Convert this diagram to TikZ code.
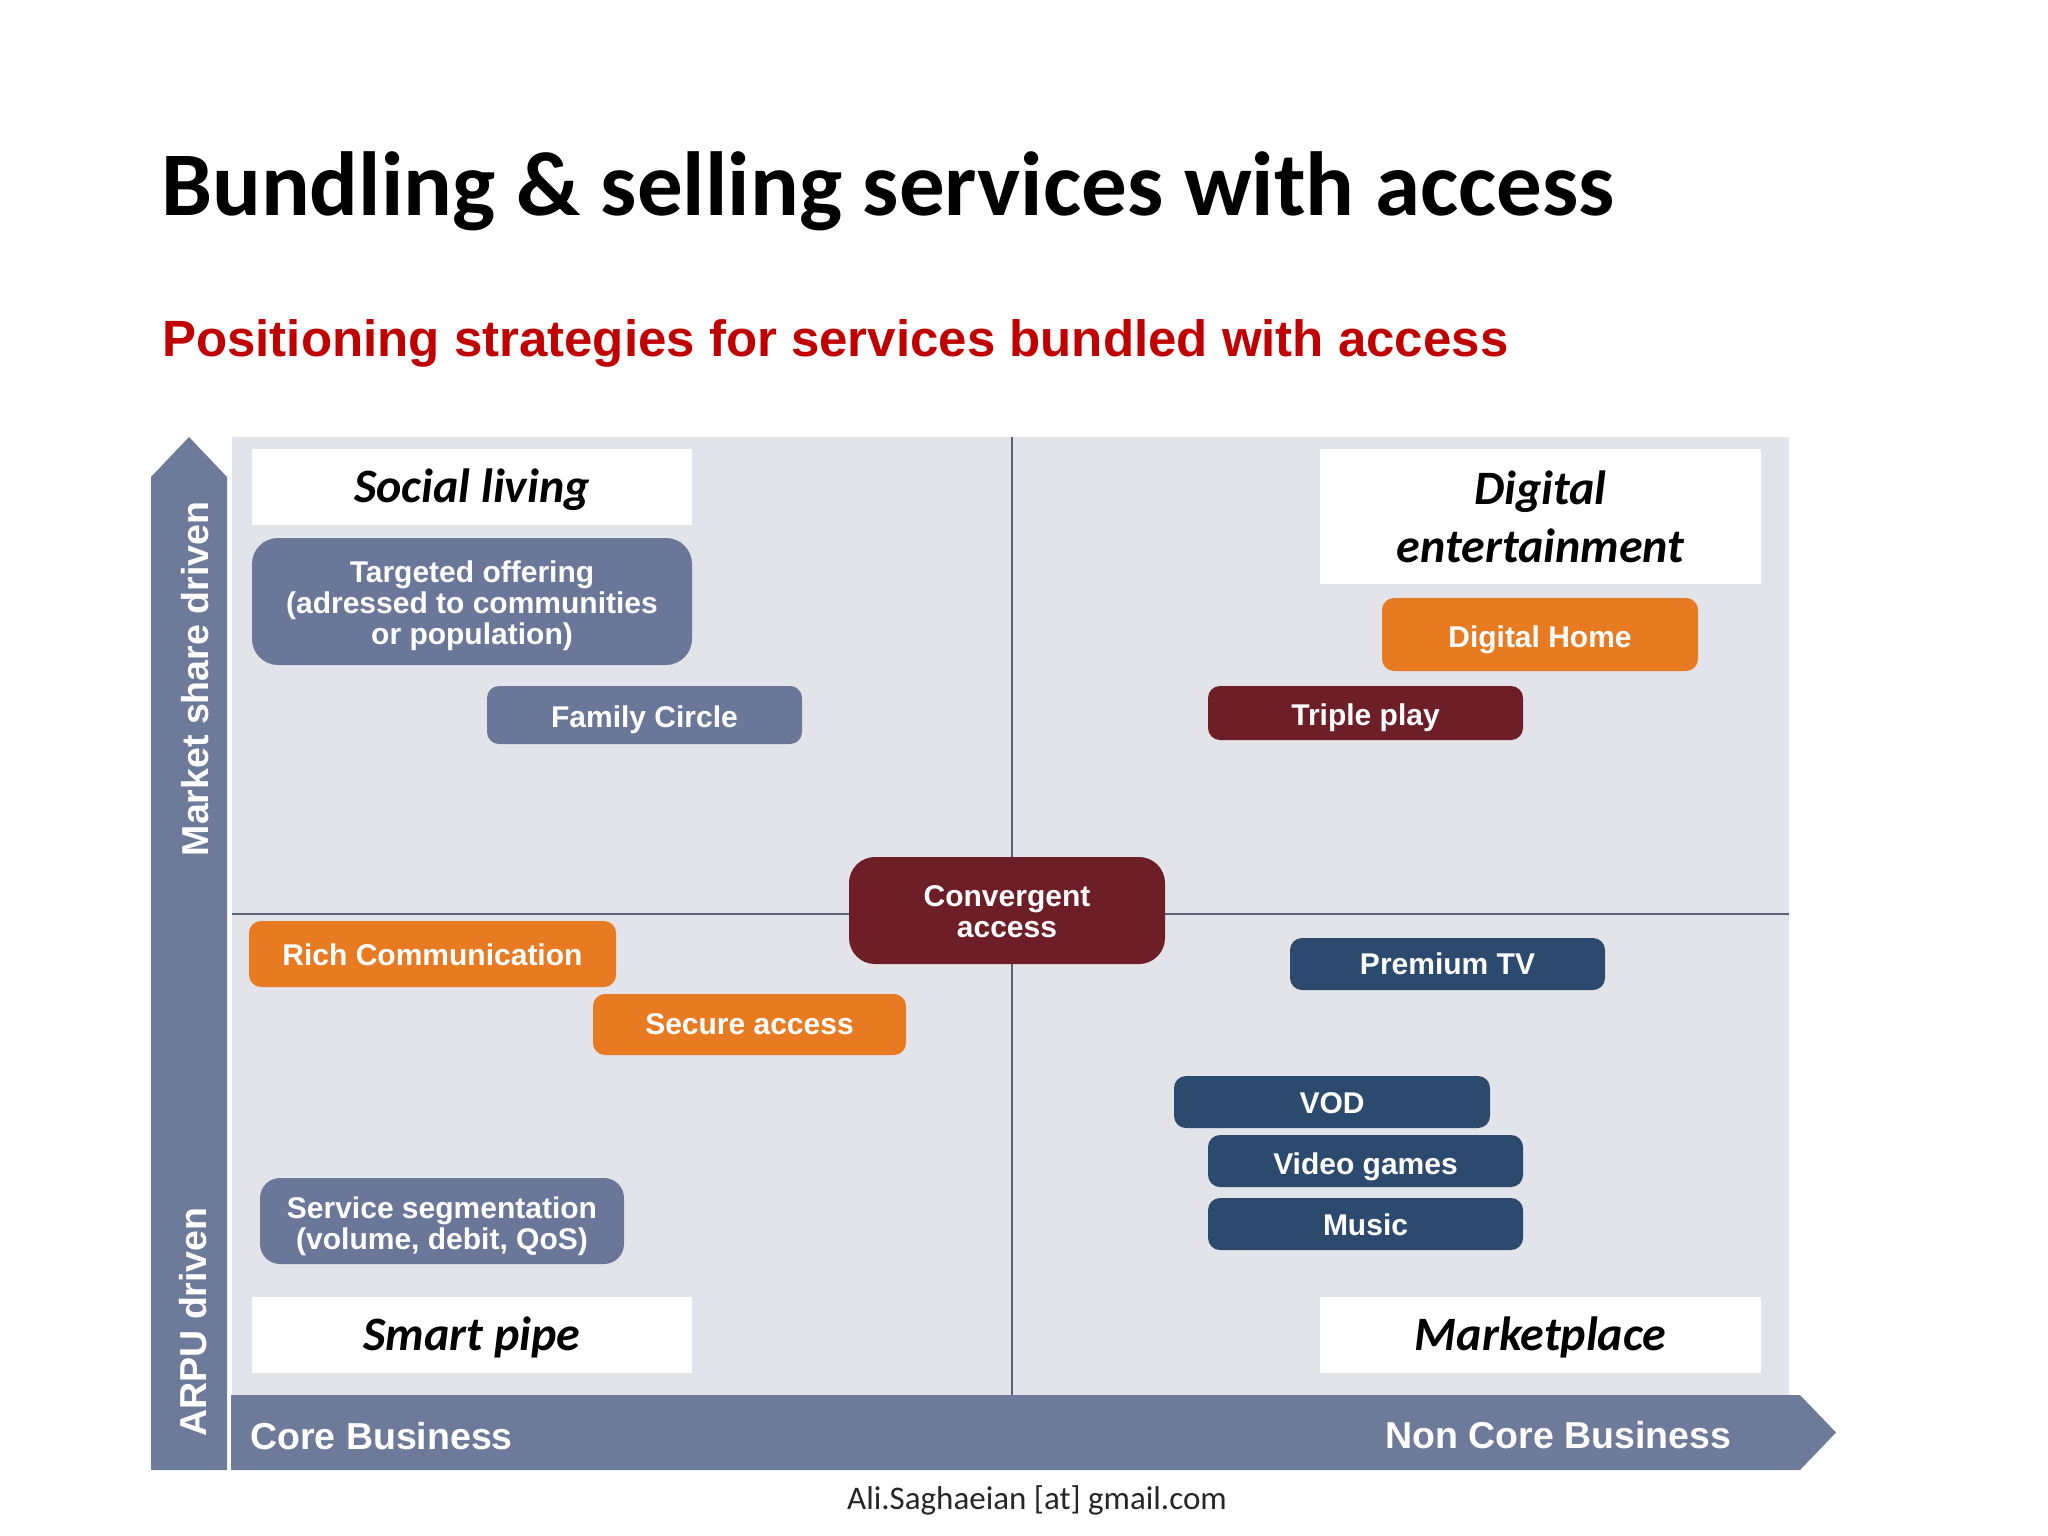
\documentclass[tikz,border=0pt]{standalone}
\usepackage{fontspec}
\newfontfamily\calfont{Carlito}
\newfontfamily\arialfont{Liberation Sans}
\definecolor{panel}{HTML}{E2E4EA}
\definecolor{axisc}{HTML}{6E7A99}
\definecolor{slatec}{HTML}{6B7798}
\definecolor{orangec}{HTML}{E87B22}
\definecolor{redc}{HTML}{6E1E26}
\definecolor{bluec}{HTML}{2C4A6D}
\definecolor{titlered}{HTML}{C00000}
\definecolor{linec}{HTML}{5A6278}
\newcommand\lowtxt[2][6pt]{\raisebox{-#1}[\height][\depth]{\begin{tabular}{@{}c@{}}#2\end{tabular}}}
\begin{document}
\begin{tikzpicture}[x=1pt,y=-1pt,
  base/.style={inner sep=0pt, align=center, text=white,
    font=\arialfont\bfseries\fontsize{30}{31}\selectfont},
  slatebox/.style={base, fill=slatec, rounded corners=12pt},
  orangebox/.style={base, fill=orangec, rounded corners=12pt},
  redbox/.style={base, fill=redc, rounded corners=12pt},
  bluebox/.style={base, fill=bluec, rounded corners=12pt},
  quad/.style={fill=white, inner sep=0pt, align=center,
    font=\calfont\bfseries\itshape\fontsize{48}{58}\selectfont},
  axislabel/.style={text=white, inner sep=0pt,
    font=\arialfont\bfseries\fontsize{37.5}{40}\selectfont}
]
\useasboundingbox (0,0) rectangle (2048,1536);
\fill[white] (0,0) rectangle (2048,1536);

% titles
\node[anchor=base west, inner sep=0pt, font=\calfont\bfseries\fontsize{91}{100}\selectfont] (title) at (161,215) {Bundling \& selling services with access};
\node[anchor=base west, inner sep=0pt, text=titlered, font=\arialfont\bfseries\fontsize{51}{56}\selectfont] (subtitle) at (162,356) {Positioning strategies for services bundled with access};

% panel
\fill[panel] (232,437) rectangle (1789,1395);

% axes arrows
\fill[axisc] (151,1470) -- (151,477) -- (189,437) -- (227,477) -- (227,1470) -- cycle;
\fill[axisc] (231,1395) -- (1800,1395) -- (1836,1432.5) -- (1800,1470) -- (231,1470) -- cycle;

% dividers
\coordinate (vt) at (1012,437);
\coordinate (vb) at (1012,1395);
\coordinate (hl) at (232,914);
\coordinate (hr) at (1789,914);
\draw[linec, line width=2.2pt] (vt) -- (vb);
\draw[linec, line width=2.2pt] (hl) -- (hr);

% axis labels
\node[axislabel, rotate=90] (ms) at (195,679) {Market share driven};
\node[axislabel, rotate=90] (arpu) at (193,1322) {ARPU driven};
\node[axislabel, anchor=west] (core) at (250,1436) {Core Business};
\node[axislabel, anchor=west] (noncore) at (1385,1435) {Non Core Business};

% quadrant titles
\node[quad, minimum width=440pt, minimum height=76pt] (social) at (472,487) {\lowtxt[4pt]{Social living}};
\node[quad, minimum width=441pt, minimum height=135pt] (digital) at (1540.5,516.5) {Digital\\entertainment};
\node[quad, minimum width=440pt, minimum height=76pt] (smart) at (472,1335) {\lowtxt[4pt]{Smart pipe}};
\node[quad, minimum width=441pt, minimum height=76pt] (market) at (1540.5,1335) {\lowtxt[4pt]{Marketplace}};

% boxes
\node[slatebox, rounded corners=26pt, minimum width=440pt, minimum height=127pt] (tgt) at (472,601.5) {\lowtxt{Targeted offering\\(adressed to communities\\or population)}};
\node[slatebox, minimum width=315pt, minimum height=58pt] (fam) at (644.5,715) {\lowtxt{Family Circle}};
\node[orangebox, minimum width=316pt, minimum height=73pt] (dhome) at (1540,634.5) {\lowtxt[7pt]{Digital Home}};
\node[redbox, minimum width=315pt, minimum height=54pt] (triple) at (1365.5,713) {\lowtxt{Triple play}};
\node[redbox, rounded corners=26pt, minimum width=316pt, minimum height=107pt] (conv) at (1007,910.5) {\lowtxt[5pt]{Convergent\\access}};
\node[orangebox, minimum width=367pt, minimum height=66pt] (rich) at (432.5,954) {\lowtxt[5pt]{Rich Communication}};
\node[orangebox, minimum width=313pt, minimum height=61pt] (secure) at (749.5,1024.5) {\lowtxt[4pt]{Secure access}};
\node[bluebox, minimum width=315pt, minimum height=52pt] (ptv) at (1447.5,964) {\lowtxt[4pt]{Premium TV}};
\node[bluebox, minimum width=316pt, minimum height=52pt] (vod) at (1332,1102) {\lowtxt[5pt]{VOD}};
\node[bluebox, minimum width=315pt, minimum height=52pt] (vg) at (1365.5,1161) {\lowtxt[7pt]{Video games}};
\node[bluebox, minimum width=315pt, minimum height=52pt] (music) at (1365.5,1224) {\lowtxt[5pt]{Music}};
\node[slatebox, rounded corners=20pt, minimum width=364pt, minimum height=86pt] (seg) at (442,1221) {\lowtxt[7pt]{Service segmentation\\(volume, debit, QoS)}};

% footer
\node[inner sep=0pt, text=black!85, font=\calfont\fontsize{33}{36}\selectfont] (footer) at (1037,1500) {Ali.Saghaeian [at] gmail.com};
\end{tikzpicture}
\end{document}
